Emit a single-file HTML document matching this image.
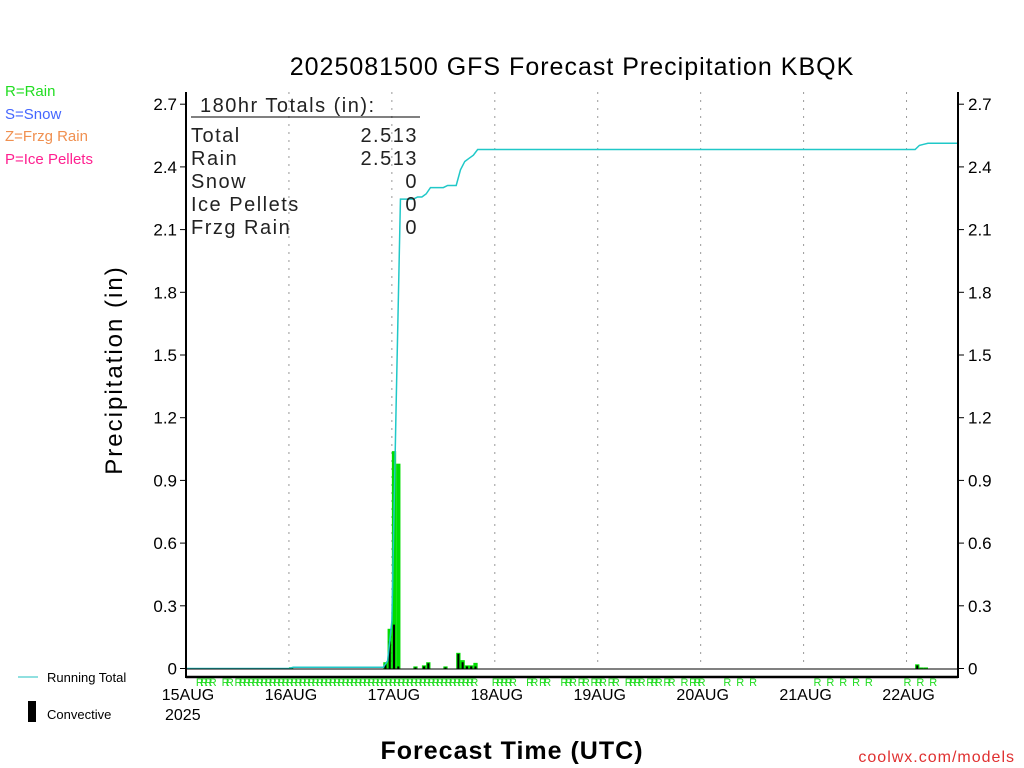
<!DOCTYPE html>
<html><head><meta charset="utf-8"><style>
body{margin:0;background:#fff;width:1024px;height:768px;overflow:hidden}
svg{display:block;font-family:"Liberation Sans",sans-serif}
</style></head><body>
<svg id="chart" width="1024" height="768">
<text x="572" y="75" text-anchor="middle" font-size="25" letter-spacing="1">2025081500 GFS Forecast Precipitation KBQK</text>
<g font-size="15">
<text x="5" y="96" fill="#22dd22">R=Rain</text>
<text x="5" y="119" fill="#4466ff">S=Snow</text>
<text x="5" y="141" fill="#f09050">Z=Frzg Rain</text>
<text x="5" y="164" fill="#ff2090">P=Ice Pellets</text>
</g>
<text transform="translate(122,370) rotate(-90)" text-anchor="middle" font-size="24" letter-spacing="2">Precipitation (in)</text>
<text x="512" y="759" text-anchor="middle" font-size="25" font-weight="bold" letter-spacing="1">Forecast Time (UTC)</text>
<text x="1015" y="762" text-anchor="end" font-size="16" fill="#e03030" letter-spacing="1">coolwx.com/models</text>
<g>
<line x1="18" y1="677" x2="38" y2="677" stroke="#20c0c0"/>
<text x="47" y="682" font-size="13">Running Total</text>
<rect x="28" y="701" width="8" height="21" fill="#000"/>
<text x="47" y="719" font-size="13">Convective</text>
</g>
<text x="165" y="720" font-size="16">2025</text>
<g id="grid"></g><g id="bars"></g><g id="line"></g><g id="axes"></g><g id="marks"></g>
<g font-size="20" letter-spacing="1.5" fill="#222">
<text x="200" y="112">180hr Totals (in):</text>
<line x1="191" y1="117" x2="420" y2="117" stroke="#000"/>
<text x="191" y="142">Total</text><text x="418" y="142" text-anchor="end">2.513</text>
<text x="191" y="165">Rain</text><text x="418" y="165" text-anchor="end">2.513</text>
<text x="191" y="188">Snow</text><text x="418" y="188" text-anchor="end">0</text>
<text x="191" y="211">Ice Pellets</text><text x="418" y="211" text-anchor="end">0</text>
<text x="191" y="234">Frzg Rain</text><text x="418" y="234" text-anchor="end">0</text>
</g>
</svg>
<script>
const yTicks=[0,0.3,0.6,0.9,1.2,1.5,1.8,2.1,2.4,2.7];
const yTickLabels=["0","0.3","0.6","0.9","1.2","1.5","1.8","2.1","2.4","2.7"];
const dayLabels=["15AUG","16AUG","17AUG","18AUG","19AUG","20AUG","21AUG","22AUG"];
const precipHours=[24,46,47,48,49,53,55,56,60,63,64,65,66,67,170,171,172];
const precipValues=[0.006,0.03,0.19,1.04,0.98,0.01,0.015,0.03,0.01,0.075,0.04,0.015,0.015,0.027,0.02,0.005,0.005];
const convValues=[0,0.02,0.13,0.21,0.01,0.005,0.01,0.025,0.005,0.07,0.03,0.01,0.01,0.01,0.015,0,0];
const rainHours=[3,4,5,6,9,10,12,13,14,15,16,17,18,19,20,21,22,23,24,25,26,27,28,29,30,31,32,33,34,35,36,37,38,39,40,41,42,43,44,45,46,47,48,49,50,51,52,53,54,55,56,57,58,59,60,61,62,63,64,65,66,67,72,73,74,75,76,80,81,83,84,88,89,90,92,93,95,96,97,99,100,103,104,105,106,108,109,110,112,113,116,118,119,120,126,129,132,147,150,153,156,159,168,171,174];
const NS="http://www.w3.org/2000/svg";
const X0=186,X1=958,Y0=668.5,PPI=209,HRS=180;
const xs=h=>X0+(X1-X0)*h/HRS;
const ys=v=>Y0-v*PPI;
function mk(tag,attrs,parent){const e=document.createElementNS(NS,tag);for(const k in attrs)e.setAttribute(k,attrs[k]);document.getElementById(parent).appendChild(e);return e;}
dayLabels.forEach((d,i)=>{
  const x=xs(i*24);
  if(i>0){const g=mk('line',{x1:x,y1:92,x2:x,y2:668,stroke:'#999','stroke-dasharray':'2,6'},'grid');
  
  }
  const t=mk('text',{x:x+2,y:700,'text-anchor':'middle','font-size':'16'},'axes');t.textContent=d;
  
  
});
precipHours.forEach((h,i)=>{
  const x=xs(h),w=xs(h+1)-xs(h);
  const b=mk('rect',{x:x,y:ys(precipValues[i]),width:w,height:precipValues[i]*PPI,fill:'#00dd00'},'bars');
  
  
  if(convValues[i]>0){const c=mk('rect',{x:x+w/2-1,y:ys(convValues[i]),width:2,height:convValues[i]*PPI,fill:'#000'},'bars');
  
  }
});
let pts=[[xs(0),ys(0)]],cum=0;
precipHours.forEach((h,i)=>{pts.push([xs(h),ys(cum)]);cum+=precipValues[i];pts.push([xs(h+1),ys(cum)]);});
pts.push([xs(HRS),ys(cum)]);
const ln=mk('polyline',{points:pts.map(p=>p.join(',')).join(' '),fill:'none',stroke:'#20c8c8','stroke-width':1.5},'line');


const ax=[['line',{x1:X0,y1:92,x2:X0,y2:678,stroke:'#000','stroke-width':2}],['line',{x1:X1,y1:92,x2:X1,y2:678,stroke:'#000','stroke-width':2}],['line',{x1:X0,y1:677,x2:X1,y2:677,stroke:'#000','stroke-width':2.5}],['line',{x1:X0,y1:669,x2:X1,y2:669,stroke:'#000','stroke-width':1}]];
ax.forEach(a=>{const e=mk(a[0],a[1],'axes');});
yTicks.forEach((v,i)=>{
  const y=ys(v);
  mk('line',{x1:X0-6,y1:y,x2:X0,y2:y,stroke:'#000'},'axes');
  mk('line',{x1:X1,y1:y,x2:X1+6,y2:y,stroke:'#000'},'axes');
  const l=mk('text',{x:X0-9,y:y+6,'text-anchor':'end','font-size':'17'},'axes');l.textContent=yTickLabels[i];
  
  
  const r=mk('text',{x:X1+10,y:y+6,'font-size':'17'},'axes');r.textContent=yTickLabels[i];
  
  
});
rainHours.forEach(h=>{
  const t=mk('text',{x:xs(h)-3,y:686,'font-size':'11',fill:'#22dd22'},'marks');t.textContent='R';
  
  
});
</script>
</body></html>
